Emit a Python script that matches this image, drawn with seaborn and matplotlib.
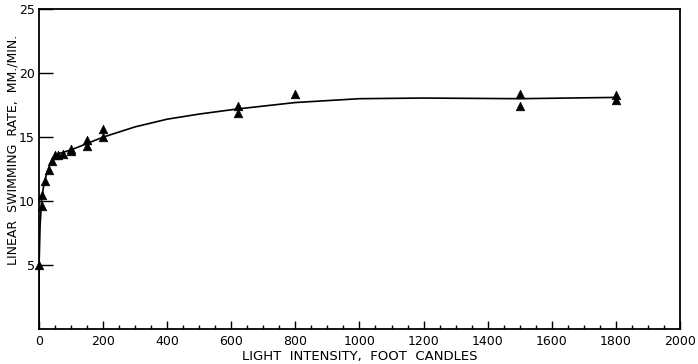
import numpy as np
import pandas as pd
import matplotlib
matplotlib.use('Agg')
import matplotlib.pyplot as plt
import seaborn as sns
from matplotlib.ticker import MultipleLocator

# observed swimming rates (triangles)
light = [0, 8, 10, 20, 30, 40, 50, 60, 75, 100, 100, 150, 150, 200, 200,
         620, 620, 800, 1500, 1500, 1800, 1800]
rate = [5.0, 10.5, 9.6, 11.6, 12.4, 13.1, 13.6, 13.6, 13.7, 13.9, 14.1,
        14.3, 14.8, 15.0, 15.6, 16.9, 17.4, 18.4, 17.4, 18.4, 17.9, 18.3]

# hand-drawn fitted curve
curve_x = [0, 0, 3, 8, 15, 25, 40, 60, 100, 150, 200, 300, 400, 500,
           620, 800, 1000, 1200, 1500, 1800]
curve_y = [0, 5.0, 8.0, 10.2, 11.3, 12.3, 13.2, 13.7, 14.0, 14.5, 15.0,
           15.8, 16.4, 16.8, 17.2, 17.7, 18.0, 18.05, 18.0, 18.1]

pts = pd.DataFrame({'light': light, 'rate': rate})
fit = pd.DataFrame({'light': curve_x, 'rate': curve_y})

sns.set_style('white')
plt.rcParams['font.family'] = ['DejaVu Sans']

fig = plt.figure(figsize=(6.98, 3.64), dpi=100)
ax = fig.add_axes([0.056, 0.096, 0.918, 0.879])

sns.lineplot(data=fit, x='light', y='rate', sort=False, estimator=None,
             color='black', linewidth=1.2, ax=ax)
sns.scatterplot(data=pts, x='light', y='rate', marker='^', s=38,
                color='black', edgecolor='black', linewidth=0.5, ax=ax,
                zorder=3, clip_on=False)

ax.set_xlim(0, 2000)
ax.set_ylim(0, 25)
ax.xaxis.set_major_locator(MultipleLocator(200))
ax.xaxis.set_minor_locator(MultipleLocator(50))
ax.set_yticks([5, 10, 15, 20, 25])
ax.tick_params(bottom=True, left=True, top=False, right=False,
               which='both', colors='black', labelcolor='black')
ax.tick_params(axis='x', which='major', direction='in', length=6, width=1,
               labelsize=9, pad=4)
ax.tick_params(axis='x', which='minor', direction='in', length=3, width=1)
ax.tick_params(axis='y', which='major', direction='in', length=10, width=1,
               labelsize=9, pad=3)

for s in ax.spines.values():
    s.set_color('black')
    s.set_linewidth(1.3)

ax.set_xlabel('LIGHT  INTENSITY,  FOOT  CANDLES', fontsize=9.5, labelpad=2,
              color='black')
ax.set_ylabel('LINEAR  SWIMMING  RATE,  MM./MIN.', fontsize=9, color='black')
ax.yaxis.set_label_coords(-0.031, 0.56)

fig.savefig('out.png', dpi=100)
